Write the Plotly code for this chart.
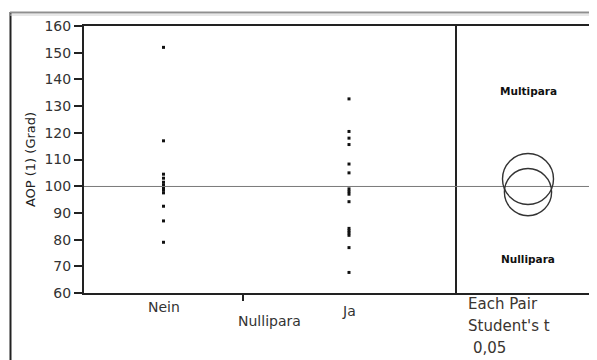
import plotly.graph_objects as go

# ---- data ----
groups = ["Nein", "Ja"]
nein_values = [152, 117, 104.5, 103, 101.5, 100.5, 99.5, 98.5, 97.5, 92.5, 87, 79]
ja_values = [132.7, 120.5, 118, 115.6, 108.3, 105, 99, 98, 97, 94.2, 84.2, 83.3,
             82.5, 81.6, 77, 67.7]
circle_radii = [9.55, 8.84]          # comparison-circle radii (Nein, Ja), in AOP units
circle_labels = ["Multipara", "Nullipara"]
y_ticks = [60, 70, 80, 90, 100, 110, 120, 130, 140, 150, 160]

series = [nein_values, ja_values]

# ---- geometry (page body has an 8px margin) ----
OFF = 8
W, H = 597 - OFF, 360 - OFF
L, R, T, B = 84 - OFF, 0, 26 - OFF, 67
PW, PH = W - L - R, H - T - B
divider_px = 455
dom_split = (divider_px - OFF - L) / PW
px_per_unit = PH / (y_ticks[-1] - y_ticks[0])
circ_px = 528
x2_range = [-(circ_px - divider_px) / px_per_unit, (597 - circ_px) / px_per_unit]

def px_x(p):
    return (p - OFF - L) / PW

def px_y(p):
    return (T + PH - (p - OFF)) / PH

fig = go.Figure()

# points: x position proportional to group size (JMP style)
start = 0
centers = []
for g, vals in zip(groups, series):
    c = start + len(vals) / 2
    centers.append(c)
    fig.add_trace(go.Scatter(
        x=[c] * len(vals), y=vals, mode="markers",
        marker=dict(color="#111", size=3, symbol="square"),
        showlegend=False, xaxis="x", yaxis="y", name=g))
    start += len(vals)
total_n = start

all_vals = nein_values + ja_values
grand_mean = sum(all_vals) / len(all_vals)
means = [sum(v) / len(v) for v in series]

shapes = []
# grand mean line across both panels
shapes.append(dict(type="line", xref="paper", yref="y", x0=0, x1=1,
                   y0=grand_mean, y1=grand_mean, line=dict(color="#7a7a7a", width=1)))
# comparison circles
for m, r in zip(means, circle_radii):
    shapes.append(dict(type="circle", xref="x2", yref="y", x0=-r, x1=r, y0=m - r, y1=m + r,
                       line=dict(color="#333", width=1.4)))
# outer frame decorations
shapes.append(dict(type="line", xref="paper", yref="paper", x0=px_x(10.5), x1=px_x(10.5),
                   y0=px_y(12), y1=px_y(365), line=dict(color="#222", width=2)))
shapes.append(dict(type="line", xref="paper", yref="paper", x0=px_x(10), x1=px_x(600),
                   y0=px_y(12.5), y1=px_y(12.5), line=dict(color="#8f8f8f", width=2)))
shapes.append(dict(type="line", xref="paper", yref="paper", x0=px_x(10), x1=px_x(600),
                   y0=px_y(15), y1=px_y(15), line=dict(color="#d0d0d0", width=1)))

font_main = "DejaVu Sans"
annotations = []
# group labels
for g, c, ys in zip(groups, centers, [-14, -18]):
    annotations.append(dict(text=g, x=c, xref="x", y=0, yref="paper", yanchor="middle",
                            yshift=ys, showarrow=False,
                            font=dict(family=font_main, size=14, color="#333")))
# x axis title
annotations.append(dict(text="Nullipara", x=dom_split / 2, xref="paper", y=0, yref="paper",
                        yanchor="middle", yshift=-28, showarrow=False,
                        font=dict(family=font_main, size=14, color="#333")))
# right panel circle labels
for lab, yv in zip(circle_labels, [135.8, 72.7]):
    annotations.append(dict(text="<b>" + lab + "</b>", x=0, xref="x2", y=yv, yref="y",
                            showarrow=False,
                            font=dict(family=font_main, size=10.5, color="#111")))
# test description
for txt, xp, yp in [("Each Pair", 466, 304), ("Student's t", 466, 326), ("0,05", 471, 348)]:
    annotations.append(dict(text=txt, x=px_x(xp), xref="paper", xanchor="left",
                            y=px_y(yp), yref="paper", yanchor="middle", showarrow=False,
                            font=dict(family=font_main, size=15, color="#3a3530")))

axis_line = dict(showline=True, linecolor="#222", linewidth=2, mirror=True,
                 showgrid=False, zeroline=False)

fig.update_layout(
    width=W, height=H,
    margin=dict(l=L, r=R, t=T, b=B),
    paper_bgcolor="white", plot_bgcolor="white",
    showlegend=False,
    xaxis=dict(domain=[0, dom_split], range=[0, total_n], tickvals=[len(nein_values)],
               ticks="outside", ticklen=6, tickwidth=2, tickcolor="#222",
               showticklabels=False, anchor="y", fixedrange=True, **axis_line),
    xaxis2=dict(domain=[dom_split, 1], range=x2_range, showticklabels=False, ticks="",
                anchor="y", fixedrange=True, **axis_line),
    yaxis=dict(range=[y_ticks[0], y_ticks[-1]], tickvals=y_ticks, ticks="outside",
               ticklen=8, tickwidth=2, tickcolor="#222", anchor="x",
               tickfont=dict(family=font_main, size=14, color="#333"),
               title=dict(text="AOP (1) (Grad)", standoff=6,
                          font=dict(family=font_main, size=13, color="#222")),
               fixedrange=True, **axis_line),
    shapes=shapes,
    annotations=annotations,
)

fig.write_html("out.html")
